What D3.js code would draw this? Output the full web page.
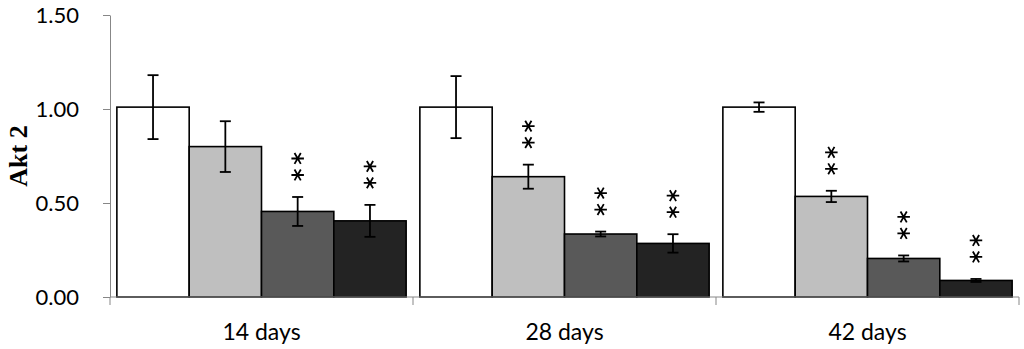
<!DOCTYPE html>
<html lang="en">
<head>
    <meta charset="UTF-8">
    <title>Akt 2</title>
    <script src="https://cdn.jsdelivr.net/npm/d3@7/dist/d3.min.js"></script>
    <style>
        body { margin: 0; background: #fff; }
        svg { display: block; }
    </style>
</head>
<body>
<script>
    // categories and series
    var categories = ["14 days", "28 days", "42 days"];
    var seriesNames = ["s1", "s2", "s3", "s4"];
    var means = [
        [1.01, 1.01, 1.01],
        [0.80, 0.64, 0.535],
        [0.455, 0.335, 0.205],
        [0.405, 0.285, 0.088]
    ];
    var errors = [
        [0.17, 0.165, 0.025],
        [0.135, 0.064, 0.03],
        [0.077, 0.013, 0.016],
        [0.085, 0.049, 0.008]
    ];
    // ** markers
    var signif = [
        [false, false, false],
        [false, true, true],
        [true, true, true],
        [true, true, true]
    ];
    var yTicks = [0, 0.5, 1.0, 1.5];
    var fills = ["#ffffff", "#bfbfbf", "#595959", "#232323"];

    var width = 1024, height = 349;
    var mLeft = 110, mRight = 1019, mTop = 15, mBottom = 297;

    var svg = d3.select("body").append("svg")
        .attr("width", width)
        .attr("height", height);

    var x0 = d3.scaleBand().domain(categories).range([mLeft, mRight]).padding(0);
    var x1 = d3.scaleBand().domain(seriesNames).range([0, x0.bandwidth()])
        .paddingInner(0).paddingOuter(0.095);
    var y = d3.scaleLinear().domain([0, 1.5]).range([mBottom, mTop]);

    // flatten to records
    var rows = [];
    seriesNames.forEach(function (s, i) {
        categories.forEach(function (c, j) {
            rows.push({s: s, i: i, c: c, v: means[i][j], e: errors[i][j], sig: signif[i][j]});
        });
    });

    // y axis
    var yAxis = svg.append("g")
        .attr("transform", "translate(" + mLeft + ",0)")
        .call(d3.axisLeft(y).tickValues(yTicks).tickFormat(d3.format(".2f"))
            .tickSizeInner(7).tickSizeOuter(0).tickPadding(24));
    yAxis.select(".domain").attr("stroke", "#878787");
    yAxis.selectAll(".tick line").attr("stroke", "#878787");
    yAxis.selectAll("text")
        .attr("font-family", "Lato, 'Open Sans', sans-serif")
        .attr("font-size", 22)
        .attr("fill", "#000");

    // bars
    svg.append("g").selectAll("rect")
        .data(rows)
        .enter().append("rect")
        .attr("x", function (d) { return x0(d.c) + x1(d.s); })
        .attr("y", function (d) { return y(d.v); })
        .attr("width", x1.bandwidth())
        .attr("height", function (d) { return y(0) - y(d.v); })
        .attr("fill", function (d) { return fills[d.i]; })
        .attr("stroke", "#000")
        .attr("stroke-width", 1.6);

    // x axis line and boundary ticks
    svg.append("line")
        .attr("x1", mLeft).attr("x2", mRight)
        .attr("y1", mBottom).attr("y2", mBottom)
        .attr("stroke", "#878787");
    var bounds = categories.map(function (c) { return x0(c); }).concat([mRight]);
    svg.append("g").selectAll("line")
        .data(bounds)
        .enter().append("line")
        .attr("x1", function (d) { return d; })
        .attr("x2", function (d) { return d; })
        .attr("y1", mBottom).attr("y2", mBottom + 8)
        .attr("stroke", "#878787");
    svg.append("g").selectAll("text")
        .data(categories)
        .enter().append("text")
        .attr("x", function (d) { return x0(d) + x0.bandwidth() / 2; })
        .attr("y", 340)
        .attr("text-anchor", "middle")
        .attr("font-family", "Lato, 'Open Sans', sans-serif")
        .attr("font-size", 23)
        .attr("fill", "#000")
        .text(function (d) { return d; });

    // error bars
    var eg = svg.append("g").attr("stroke", "#000").attr("stroke-width", 1.8);
    rows.forEach(function (d) {
        var cx = x0(d.c) + x1(d.s) + x1.bandwidth() / 2;
        var yt = y(d.v + d.e), yb = y(d.v - d.e);
        eg.append("line").attr("x1", cx).attr("x2", cx).attr("y1", yt).attr("y2", yb);
        eg.append("line").attr("x1", cx - 5.5).attr("x2", cx + 5.5).attr("y1", yt).attr("y2", yt);
        eg.append("line").attr("x1", cx - 5.5).attr("x2", cx + 5.5).attr("y1", yb).attr("y2", yb);
    });

    // asterisks
    var star = d3.symbol().type(d3.symbolAsterisk).size(110);
    svg.append("g").selectAll("path")
        .data(rows.filter(function (d) { return d.sig; }).flatMap(function (d) {
            return [{d: d, k: 0}, {d: d, k: 1}];
        }))
        .enter().append("path")
        .attr("d", star)
        .attr("transform", function (p) {
            var cx = x0(p.d.c) + x1(p.d.s) + x1.bandwidth() / 2;
            var cy = y(p.d.v + p.d.e) - 22 - p.k * 16.5;
            return "translate(" + cx + "," + cy + ") rotate(90)";
        })
        .attr("fill", "none")
        .attr("stroke", "#000")
        .attr("stroke-width", 1.8);

    // y label
    svg.append("text")
        .attr("transform", "translate(27,156) rotate(-90)")
        .attr("text-anchor", "middle")
        .attr("font-family", "'Liberation Serif', 'Times New Roman', serif")
        .attr("font-weight", "bold")
        .attr("font-size", 26)
        .attr("fill", "#000")
        .text("Akt 2");
</script>
</body>
</html>
